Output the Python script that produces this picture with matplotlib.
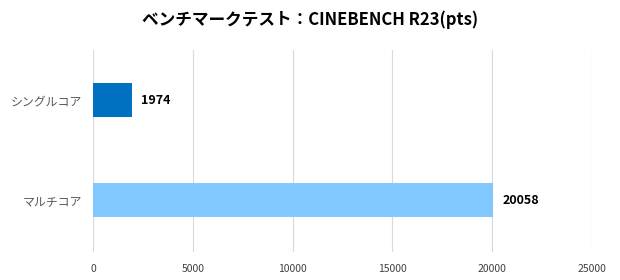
import matplotlib
matplotlib.use("Agg")
import matplotlib.pyplot as plt

plt.rcParams['font.family'] = ['Noto Sans CJK JP', 'DejaVu Sans']

# data
title = "ベンチマークテスト：CINEBENCH R23(pts)"
categories = ["シングルコア", "マルチコア"]
scores = [1974, 20058]
bar_colors = ["#0070C0", "#80C8FF"]
xticks = [0, 5000, 10000, 15000, 20000, 25000]

fig = plt.figure(figsize=(6.2, 2.8), dpi=100)
ax = fig.add_axes([0.15, 0.1, 0.805, 0.721])

pos = list(range(len(categories)))
ax.barh(pos, scores, height=0.35 * 200 / 202, color=bar_colors, zorder=3)

for p, v in zip(pos, scores):
    ax.text(v + 450, p, str(v), va="center", ha="left",
            fontsize=9, fontweight="bold", color="#000000")

ax.set_xlim(0, 25000)
ax.set_ylim(1.52, -0.5)
ax.set_xticks(xticks)
ax.set_xticklabels([str(t) for t in xticks], fontsize=7.5, color="#404040")
ax.set_yticks(pos)
ax.set_yticklabels(categories, fontsize=8.6, color="#595959")
ax.tick_params(axis="both", length=0)
ax.tick_params(axis="x", pad=9)
ax.tick_params(axis="y", pad=8)

ax.grid(axis="x", color="#d9d9d9", linewidth=0.8, zorder=0)
for s in ax.spines.values():
    s.set_visible(False)

fig.text(0.5, 0.93, title, ha="center", va="center",
         fontsize=12, fontweight="bold")

fig.savefig("out.png", dpi=100, facecolor="white")
